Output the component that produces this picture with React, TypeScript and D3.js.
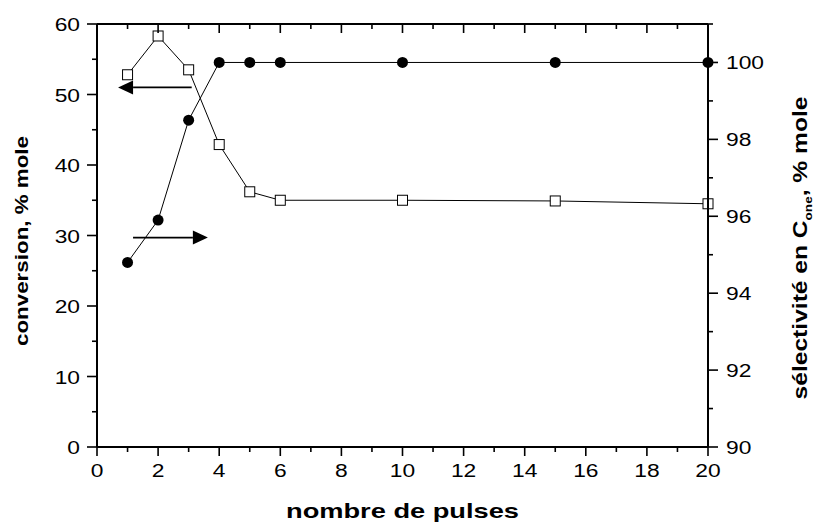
import React from "react";
import * as d3 from "d3";

const pulses = [1, 2, 3, 4, 5, 6, 10, 15, 20];
const conversion = [52.8, 58.3, 53.5, 42.9, 36.2, 35.0, 35.0, 34.9, 34.5];
const selectivity = [94.8, 95.9, 98.5, 100, 100, 100, 100, 100, 100];

const xTicks = [0, 2, 4, 6, 8, 10, 12, 14, 16, 18, 20];
const xMinor = [1, 3, 5, 7, 9, 11, 13, 15, 17, 19];
const leftTicks = [0, 10, 20, 30, 40, 50, 60];
const leftMinor = [5, 15, 25, 35, 45, 55];
const rightTicks = [90, 92, 94, 96, 98, 100];
const rightMinor = [91, 93, 95, 97, 99, 101];

// arrows in data units: [xStart, xEnd, yValue(conversion scale)]
const arrowLeft = [3.1, 0.69, 51.0];
const arrowRight = [1.18, 3.63, 29.7];

const W = 814;
const H = 522;
const L = 97;
const R = 708;
const T = 24;
const B = 447;

const FONT = "'Liberation Sans', Arial, Helvetica, sans-serif";
const SX = 1.2;

export default function App() {
  const x = d3.scaleLinear().domain([0, 20]).range([L, R]);
  const yL = d3.scaleLinear().domain([0, 60]).range([B, T]);
  const yR = d3.scaleLinear().domain([90, 101]).range([B, T]);

  const convLine = d3
    .line<number>()
    .x((_, i) => x(pulses[i]))
    .y((d) => yL(d));
  const selLine = d3
    .line<number>()
    .x((_, i) => x(pulses[i]))
    .y((d) => yR(d));

  const axisW = 2;
  const tickStyle = { stroke: "#000", strokeWidth: 1.6 };

  const arrow = (a: number[], key: string) => {
    const x0 = x(a[0]);
    const x1 = x(a[1]);
    const yy = yL(a[2]);
    const dir = Math.sign(x1 - x0);
    const headLen = 15;
    const half = 7;
    const bx = x1 - dir * headLen;
    return (
      <g key={key}>
        <line x1={x0} y1={yy} x2={bx} y2={yy} stroke="#000" strokeWidth={1.8} />
        <path d={`M${x1},${yy} L${bx},${yy - half} L${bx},${yy + half} Z`} fill="#000" />
      </g>
    );
  };

  return (
    <svg
      width={W}
      height={H}
      style={{ position: "absolute", left: 0, top: 0, background: "#fff" }}
      fontFamily={FONT}
    >
      <rect x={0} y={0} width={W} height={H} fill="#fff" />
      {/* series lines */}
      <path d={selLine(selectivity) || ""} fill="none" stroke="#000" strokeWidth={1} />
      <path d={convLine(conversion) || ""} fill="none" stroke="#000" strokeWidth={1} />
      {/* markers */}
      {selectivity.map((v, i) => (
        <circle key={"c" + i} cx={x(pulses[i])} cy={yR(v)} r={5.5} fill="#000" />
      ))}
      {conversion.map((v, i) => (
        <rect
          key={"s" + i}
          x={x(pulses[i]) - 5}
          y={yL(v) - 5}
          width={10}
          height={10}
          fill="#fff"
          stroke="#000"
          strokeWidth={1}
        />
      ))}
      {arrow(arrowLeft, "al")}
      {arrow(arrowRight, "ar")}

      {/* frame */}
      <line x1={L} y1={T} x2={R} y2={T} stroke="#000" strokeWidth={axisW} />
      <line x1={L} y1={B} x2={R} y2={B} stroke="#000" strokeWidth={axisW} />
      <line x1={L} y1={T} x2={L} y2={B} stroke="#000" strokeWidth={axisW} />
      <line x1={R} y1={T} x2={R} y2={B} stroke="#000" strokeWidth={axisW} />

      {/* bottom ticks */}
      {xTicks.map((t) => (
        <g key={"xb" + t}>
          <line x1={x(t)} x2={x(t)} y1={B} y2={B + 9} {...tickStyle} />
          <line x1={x(t)} x2={x(t)} y1={T} y2={T + 9} {...tickStyle} />
          <text
            transform={`translate(${x(t)},${B + 30}) scale(${SX},1)`}
            textAnchor="middle"
            fontSize={19}
            fill="#000"
          >
            {t}
          </text>
        </g>
      ))}
      {xMinor.map((t) => (
        <g key={"xm" + t}>
          <line x1={x(t)} x2={x(t)} y1={B} y2={B + 5} {...tickStyle} />
          <line x1={x(t)} x2={x(t)} y1={T} y2={T + 5} {...tickStyle} />
        </g>
      ))}

      {/* left ticks */}
      {leftTicks.map((t) => (
        <g key={"yl" + t}>
          <line x1={L - 10} x2={L} y1={yL(t)} y2={yL(t)} {...tickStyle} />
          <text
            transform={`translate(${L - 17},${yL(t) + 7}) scale(${SX},1)`}
            textAnchor="end"
            fontSize={19}
            fill="#000"
          >
            {t}
          </text>
        </g>
      ))}
      {leftMinor.map((t) => (
        <line key={"ylm" + t} x1={L - 5} x2={L} y1={yL(t)} y2={yL(t)} {...tickStyle} />
      ))}

      {/* right ticks */}
      {rightTicks.map((t) => (
        <g key={"yr" + t}>
          <line x1={R} x2={R + 10} y1={yR(t)} y2={yR(t)} {...tickStyle} />
          <text
            transform={`translate(${R + 18},${yR(t) + 7}) scale(${SX},1)`}
            textAnchor="start"
            fontSize={19}
            fill="#000"
          >
            {t}
          </text>
        </g>
      ))}
      {rightMinor.map((t) => (
        <line key={"yrm" + t} x1={R} x2={R + 5} y1={yR(t)} y2={yR(t)} {...tickStyle} />
      ))}

      {/* axis titles */}
      <text
        x={(L + R) / 2}
        y={518}
        textAnchor="middle"
        fontSize={21}
        fontWeight="bold"
        textLength={233}
        lengthAdjust="spacingAndGlyphs"
        fill="#000"
      >
        nombre de pulses
      </text>
      <text
        transform={`translate(28,241) rotate(-90)`}
        textAnchor="middle"
        fontSize={19}
        fontWeight="bold"
        textLength={210}
        lengthAdjust="spacingAndGlyphs"
        fill="#000"
      >
        conversion, % mole
      </text>
      <text
        transform={`translate(807,248) rotate(-90) scale(1.23,1)`}
        textAnchor="middle"
        fontSize={20}
        fontWeight="bold"
        fill="#000"
      >
        sélectivité en C
        <tspan fontSize={11} dy={5}>one</tspan>
        <tspan dy={-5}>, % mole</tspan>
      </text>
    </svg>
  );
}
